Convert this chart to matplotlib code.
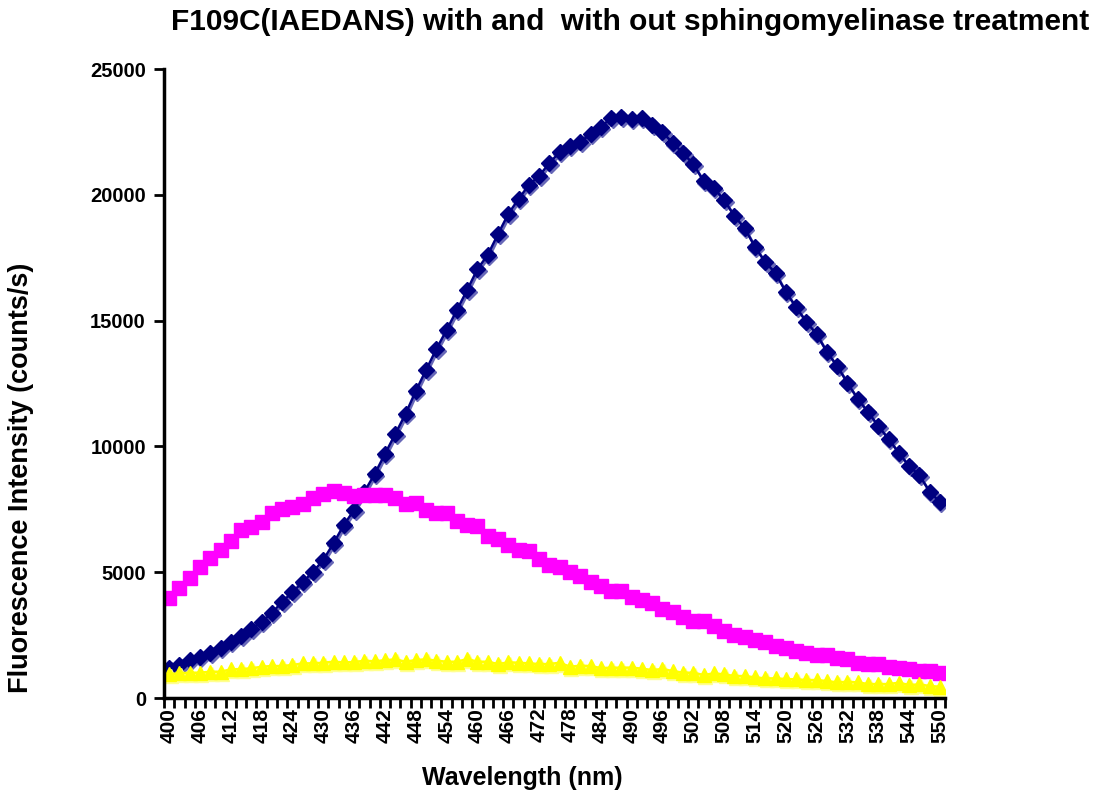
import numpy as np
import matplotlib
matplotlib.use("Agg")
from matplotlib import pyplot as plt
from matplotlib import transforms
from matplotlib.ticker import MultipleLocator, FixedLocator

plt.rcParams['font.family'] = ['Liberation Sans', 'DejaVu Sans']

# wavelength categories (nm), one reading every 2 nm
wavelength = np.arange(400, 552, 2)

# untreated (navy diamonds)
blue = [1190, 1310, 1510, 1630, 1790, 1990, 2230, 2460, 2740, 3020,
        3380, 3820, 4210, 4610, 5010, 5490, 6150, 6880, 7470, 8200,
        8900, 9700, 10490, 11290, 12200, 13040, 13870, 14630, 15420, 16220,
        17050, 17610, 18440, 19240, 19840, 20390, 20750, 21270, 21700, 21940,
        22100, 22420, 22700, 23050, 23090, 23030, 23050, 22780, 22500, 22060,
        21660, 21230, 20550, 20270, 19800, 19160, 18680, 17930, 17330, 16890,
        16140, 15540, 14950, 14470, 13750, 13200, 12520, 11890, 11370, 10810,
        10300, 9740, 9220, 8860, 8190, 7790]

# sphingomyelinase treated (magenta squares)
magenta = [3990, 4360, 4760, 5190, 5570, 5880, 6240, 6660, 6810, 6980,
           7350, 7520, 7600, 7730, 7950, 8130, 8220, 8170, 8040, 8080,
           8080, 8080, 7970, 7730, 7740, 7490, 7340, 7340, 7020, 6880,
           6820, 6460, 6310, 6090, 5900, 5860, 5530, 5290, 5190, 4990,
           4850, 4630, 4450, 4270, 4270, 4030, 3900, 3760, 3540, 3400,
           3210, 3070, 3050, 2850, 2680, 2520, 2440, 2320, 2240, 2080,
           1970, 1880, 1800, 1720, 1700, 1580, 1540, 1400, 1350, 1340,
           1220, 1180, 1140, 1060, 1060, 980]

# yellow triangles
yellow = [953, 979, 1006, 1006, 1045, 1045, 1138, 1152, 1178, 1244,
          1271, 1271, 1311, 1377, 1377, 1403, 1443, 1416, 1430, 1480,
          1460, 1500, 1536, 1443, 1509, 1536, 1483, 1443, 1443, 1549,
          1443, 1443, 1350, 1416, 1403, 1377, 1350, 1350, 1403, 1244,
          1284, 1271, 1190, 1205, 1205, 1210, 1165, 1112, 1152, 1072,
          1006, 1006, 913, 979, 939, 873, 873, 820, 780, 780,
          754, 741, 714, 714, 674, 621, 648, 621, 555, 555,
          555, 608, 515, 542, 476, 449]

x_labels = wavelength[::3]

fig = plt.figure(figsize=(11.08, 7.95), dpi=100)
ax = fig.add_axes([0.148, 0.122, 0.705, 0.791])

# soft drop shadows like the Excel original
shadow = transforms.offset_copy(ax.transData, fig=fig, x=1.5, y=-2, units='dots')
ax.plot(wavelength, blue, color='#6868B8', lw=1.8, marker='D', ms=8.5,
        mec='#6868B8', mfc='#6868B8', transform=shadow)
ax.plot(wavelength, blue, color='#000080', lw=1.8, marker='D', ms=8.5,
        mec='#000080', mfc='#000080')
ax.plot(wavelength, magenta, color='#FF00FF', lw=1.8, marker='s', ms=10.5,
        mec='#FF00FF', mfc='#FF00FF')
ax.plot(wavelength, yellow, color='#FFFF90', lw=1.8, marker='^', ms=9.5,
        mec='#FFFF90', mfc='#FFFF90', transform=shadow)
ax.plot(wavelength, yellow, color='#FFFF00', lw=1.8, marker='^', ms=9.5,
        mec='#FFFF00', mfc='#FFFF00')

ax.set_xlim(399, 551)
ax.set_ylim(0, 25000)
ax.yaxis.set_major_locator(MultipleLocator(5000))
ax.xaxis.set_major_locator(FixedLocator(x_labels))
ax.xaxis.set_minor_locator(FixedLocator(np.arange(399, 552, 2)))
ax.set_xticklabels([str(v) for v in x_labels], rotation=90,
                   fontsize=15, fontweight='bold')
ax.tick_params(axis='x', which='major', length=0, pad=7)
ax.tick_params(axis='x', which='minor', length=7, width=2)
ax.tick_params(axis='y', length=7, width=2, labelsize=14.5, pad=6)
for lab in ax.get_yticklabels():
    lab.set_fontweight('bold')

for side in ['top', 'right']:
    ax.spines[side].set_visible(False)
for side in ['left', 'bottom']:
    ax.spines[side].set_linewidth(2.5)

fig.text(0.569, 0.972,
         'F109C(IAEDANS) with and  with out sphingomyelinase treatment',
         fontsize=21.5, fontweight='bold', ha='center', va='center')
fig.text(0.471, 0.021, 'Wavelength (nm)', fontsize=18, fontweight='bold',
         ha='center', va='center')
fig.text(0.019, 0.399, 'Fluorescence Intensity (counts/s)', fontsize=19.5,
         fontweight='bold', ha='center', va='center', rotation=90)

fig.savefig('out.png', dpi=100)
